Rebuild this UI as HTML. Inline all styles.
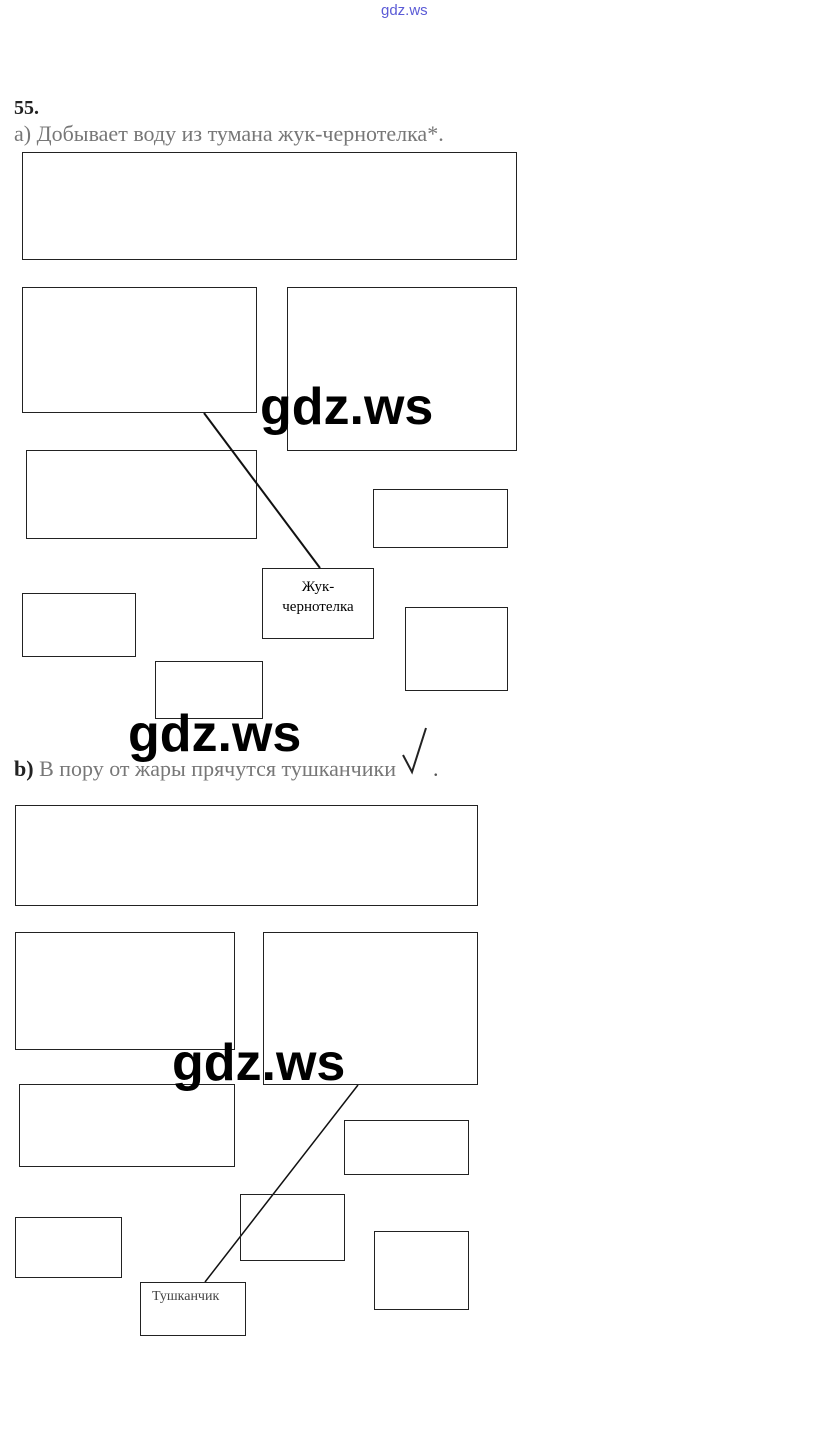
<!DOCTYPE html>
<html><head><meta charset="utf-8"><style>
body{margin:0;width:815px;height:1442px;background:#fff;position:relative;overflow:hidden;font-family:"Liberation Serif",serif}
.b{position:absolute;border:1px solid #222;box-sizing:border-box}
.t{position:absolute;white-space:nowrap}
.wm{position:absolute;font-family:"Liberation Sans",sans-serif;font-weight:bold;font-size:52px;line-height:1;color:#000}
</style></head><body>
<div class="t" style="left:381px;top:2px;font-family:'Liberation Sans',sans-serif;font-size:15px;color:#5b5bd6">gdz.ws</div>
<div class="t" style="left:14px;top:97px;font-size:20px;font-weight:bold;color:#222">55.</div>
<div class="t" style="left:14px;top:121px;font-size:22px;color:#777">a) Добывает воду из тумана жук-чернотелка*.</div>
<div class="b" style="left:22px;top:152px;width:495px;height:108px"></div>
<div class="b" style="left:22px;top:287px;width:235px;height:126px"></div>
<div class="b" style="left:287px;top:287px;width:230px;height:164px"></div>
<div class="b" style="left:26px;top:450px;width:231px;height:89px"></div>
<div class="b" style="left:373px;top:489px;width:135px;height:59px"></div>
<div class="b" style="left:262px;top:568px;width:112px;height:71px;text-align:center;font-size:15px;line-height:20px;padding-top:8px">Жук-<br>чернотелка</div>
<div class="b" style="left:22px;top:593px;width:114px;height:64px"></div>
<div class="b" style="left:405px;top:607px;width:103px;height:84px"></div>
<div class="b" style="left:155px;top:661px;width:108px;height:58px"></div>
<svg style="position:absolute;left:0;top:0" width="815" height="1442">
<line x1="204" y1="413" x2="320" y2="568" stroke="#111" stroke-width="2"/>
<line x1="358" y1="1085" x2="205" y2="1282" stroke="#111" stroke-width="1.5"/>
<path d="M403 755 L412 772 L426 728" stroke="#222" stroke-width="2" fill="none"/>
</svg>
<div class="t" style="left:14px;top:756px;font-size:22px;color:#777"><b style="color:#222">b)</b> В пору от жары прячутся тушканчики</div>
<div class="t" style="left:433px;top:756px;font-size:22px;color:#555">.</div>
<div class="b" style="left:15px;top:805px;width:463px;height:101px"></div>
<div class="b" style="left:15px;top:932px;width:220px;height:118px"></div>
<div class="b" style="left:263px;top:932px;width:215px;height:153px"></div>
<div class="b" style="left:19px;top:1084px;width:216px;height:83px"></div>
<div class="b" style="left:344px;top:1120px;width:125px;height:55px"></div>
<div class="b" style="left:240px;top:1194px;width:105px;height:67px"></div>
<div class="b" style="left:15px;top:1217px;width:107px;height:61px"></div>
<div class="b" style="left:374px;top:1231px;width:95px;height:79px"></div>
<div class="b" style="left:140px;top:1282px;width:106px;height:54px;font-size:14px;padding:6px 0 0 11px;color:#444">Тушканчик</div>
<div class="wm" style="left:260px;top:381px">gdz.ws</div>
<div class="wm" style="left:128px;top:708px">gdz.ws</div>
<div class="wm" style="left:172px;top:1037px">gdz.ws</div>
</body></html>
